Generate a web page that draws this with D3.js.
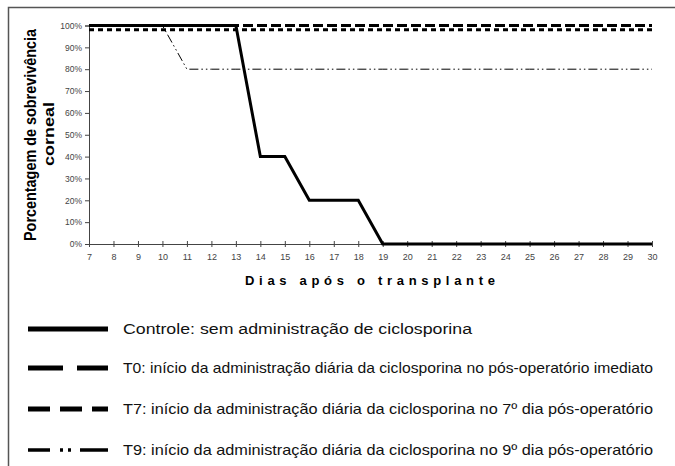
<!DOCTYPE html>
<html><head><meta charset="utf-8">
<script src="https://cdn.jsdelivr.net/npm/d3@7"></script>
<style>html,body{margin:0;padding:0;background:#fff}svg{display:block}</style>
</head><body>
<script>
const days = d3.range(7, 31);
const yTicks = [0,10,20,30,40,50,60,70,80,90,100];
const controle = [100,100,100,100,100,100,100,40,40,20,20,20,0,0,0,0,0,0,0,0,0,0,0,0];
const t0 = [100,100,100,100,100,100,100,100,100,100,100,100,100,100,100,100,100,100,100,100,100,100,100,100];
const t7 = [98,98,98,98,98,98,98,98,98,98,98,98,98,98,98,98,98,98,98,98,98,98,98,98];
const t9 = [100,100,100,100,80,80,80,80,80,80,80,80,80,80,80,80,80,80,80,80,80,80,80,80];
const legendLabels = [
  "Controle: sem administração de ciclosporina",
  "T0: início da administração diária da ciclosporina no pós-operatório imediato",
  "T7: início da administração diária da ciclosporina no 7º dia pós-operatório",
  "T9: início da administração diária da ciclosporina no 9º dia pós-operatório"
];
const yTitle = ["Porcentagem de sobrevivência", "corneal"];
const xTitle = "Dias após o transplante";

const W = 675, H = 466;
const svg = d3.select("body").append("svg").attr("width", W).attr("height", H);
const font = "Liberation Sans, Arial, Helvetica, sans-serif";

// frame
svg.append("path").attr("d", `M8.5,${H} L8.5,7.5 L${W},7.5`).attr("fill","none").attr("stroke","#555").attr("stroke-width",1.5);

const x = d3.scaleLinear().domain([7,30]).range([89,652]);
const y = d3.scaleLinear().domain([0,100]).range([244,25.5]);

// y axis
const ya = svg.append("g").attr("transform","translate(89,0)")
  .call(d3.axisLeft(y).tickValues(yTicks).tickFormat(d=>d+"%").tickSize(4).tickPadding(3));
ya.select(".domain").attr("stroke","#444");
ya.selectAll(".tick line").attr("stroke","#444");
ya.selectAll("text").attr("font-family",font).attr("font-size",8.5).attr("fill","#444");

// x axis
const xa = svg.append("g").attr("transform","translate(0,244)")
  .call(d3.axisBottom(x).tickValues(days).tickFormat(d3.format("d")).tickSize(3).tickPadding(7));
xa.select(".domain").attr("stroke","#444");
xa.selectAll(".tick line").attr("stroke","#444").attr("y1",-3);
xa.selectAll("text").attr("font-family",font).attr("font-size",9).attr("fill","#444");

// titles
svg.append("text").attr("transform","translate(36,135) rotate(-90)").attr("text-anchor","middle")
  .attr("font-family",font).attr("font-weight","bold").attr("font-size",16)
  .attr("textLength",212).attr("lengthAdjust","spacingAndGlyphs").text(yTitle[0]);
svg.append("text").attr("transform","translate(54,134) rotate(-90)").attr("text-anchor","middle")
  .attr("font-family",font).attr("font-weight","bold").attr("font-size",15.5)
  .attr("textLength",64).attr("lengthAdjust","spacingAndGlyphs").text(yTitle[1]);
svg.append("text").attr("x",370).attr("y",285).attr("text-anchor","middle")
  .attr("font-family",font).attr("font-weight","bold").attr("font-size",13)
  .attr("textLength",250).attr("lengthAdjust","spacing").text(xTitle);

// series
const series = [
  {vals: t9, w: 1, dash: "9,3,1.5,3,1.5,3"},
  {vals: t7, w: 3, dash: "5,4"},
  {vals: t0, w: 3, dash: "10,4"},
  {vals: controle, w: 3, dash: null}
];
const line = d3.line().x((d,i)=>x(days[i])).y(d=>y(d));
series.forEach(s=>{
  svg.append("path").datum(s.vals).attr("d",line).attr("fill","none")
    .attr("stroke","#000").attr("stroke-width",s.w)
    .attr("stroke-dasharray",s.dash).attr("stroke-linejoin","miter");
});

// legend
const legY = [329, 368, 409, 450];
const legStyle = [
  {w:5, dash:null},
  {w:5, dash:"35,14"},
  {w:5, dash:"22,10"},
  {w:3.5, dash:"22,10,3,5,3,9,30"}
];
const legWidths = [349, 530, 530, 530];
const legSizes = [14, 15, 14.5, 15];
legendLabels.forEach((t,i)=>{
  svg.append("line").attr("x1",28).attr("x2",108).attr("y1",legY[i]).attr("y2",legY[i])
    .attr("stroke","#000").attr("stroke-width",legStyle[i].w).attr("stroke-dasharray",legStyle[i].dash);
  svg.append("text").attr("x",123).attr("y",legY[i]+5).attr("font-family",font).attr("font-size",legSizes[i])
    .attr("fill","#111").attr("textLength",legWidths[i]).attr("lengthAdjust","spacingAndGlyphs").text(t);
});
</script>
</body></html>
